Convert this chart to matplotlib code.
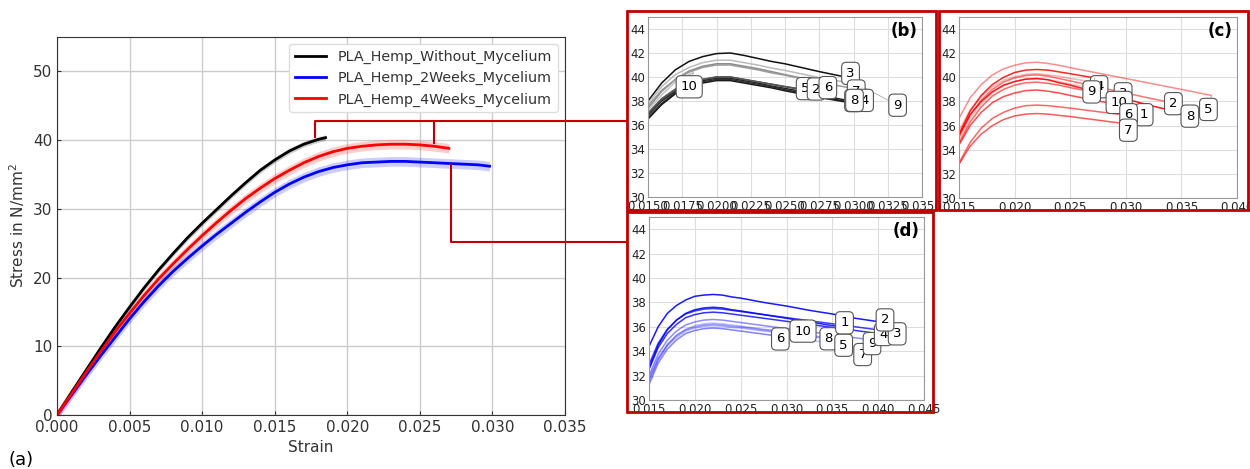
import matplotlib
matplotlib.use("Agg")
import matplotlib.pyplot as plt
from matplotlib.lines import Line2D
from matplotlib.patches import Rectangle

W, H = 1250, 469

# ---- main chart (a): mean curves ----
strain_black = [0.000, 0.001, 0.002, 0.003, 0.004, 0.005, 0.006, 0.007, 0.008, 0.009,
                0.010, 0.011, 0.012, 0.013, 0.014, 0.015, 0.016, 0.017, 0.018, 0.0185]
stress_black = [0, 3.3, 6.5, 9.7, 12.8, 15.7, 18.5, 21.1, 23.5, 25.8,
                27.9, 29.9, 31.9, 33.8, 35.6, 37.1, 38.4, 39.4, 40.1, 40.35]

strain_red = [0.000, 0.001, 0.002, 0.003, 0.004, 0.005, 0.006, 0.007, 0.008, 0.009,
              0.010, 0.011, 0.012, 0.013, 0.014, 0.015, 0.016, 0.017, 0.018, 0.019,
              0.020, 0.021, 0.022, 0.023, 0.024, 0.025, 0.026, 0.027]
stress_red = [0, 3.1, 6.2, 9.2, 12.1, 14.8, 17.4, 19.8, 22.0, 24.1,
              26.1, 28.0, 29.8, 31.5, 33.0, 34.4, 35.6, 36.7, 37.6, 38.3,
              38.8, 39.1, 39.3, 39.4, 39.4, 39.3, 39.1, 38.8]

strain_blue = [0.000, 0.001, 0.002, 0.003, 0.004, 0.005, 0.006, 0.007, 0.008, 0.009,
               0.010, 0.011, 0.012, 0.013, 0.014, 0.015, 0.016, 0.017, 0.018, 0.019,
               0.020, 0.021, 0.022, 0.023, 0.024, 0.025, 0.026, 0.027, 0.028, 0.029, 0.0298]
stress_blue = [0, 2.9, 5.8, 8.6, 11.3, 14.0, 16.5, 18.8, 20.9, 22.8,
               24.6, 26.3, 27.9, 29.5, 31.0, 32.4, 33.6, 34.6, 35.4, 36.0,
               36.4, 36.7, 36.8, 36.9, 36.9, 36.8, 36.7, 36.6, 36.5, 36.4, 36.2]

spread_black = 0.4
spread_red = 0.7
spread_blue = 0.7

legend_labels = ["PLA_Hemp_Without_Mycelium", "PLA_Hemp_2Weeks_Mycelium", "PLA_Hemp_4Weeks_Mycelium"]

# ---- single specimens, panels (b) (c) (d) ----
grid = [0.015, 0.016, 0.017, 0.018, 0.019, 0.020, 0.021, 0.022, 0.023, 0.024, 0.025,
        0.0275, 0.030, 0.0325, 0.035, 0.0375, 0.040]

# (b) without mycelium, specimens 1..10; last value sits at the end strain
b_stress = [
    [36.8, 38.0, 38.8, 39.4, 39.7, 39.9, 39.9, 39.7, 39.5, 39.25, 39.05, 38.5, 37.95],
    [36.9, 38.1, 38.9, 39.5, 39.8, 40.0, 40.0, 39.8, 39.6, 39.4, 39.2, 38.75],
    [38.0, 39.5, 40.6, 41.3, 41.7, 41.95, 42.0, 41.8, 41.55, 41.3, 41.1, 40.45, 40.05],
    [36.6, 37.8, 38.7, 39.3, 39.6, 39.8, 39.8, 39.6, 39.4, 39.2, 38.95, 38.4, 37.85, 37.8],
    [37.0, 38.2, 39.0, 39.5, 39.8, 40.0, 40.0, 39.8, 39.6, 39.4, 39.2, 38.95],
    [37.4, 38.8, 39.8, 40.5, 40.9, 41.1, 41.1, 40.9, 40.7, 40.45, 40.2, 39.6, 39.45],
    [37.6, 38.9, 39.8, 40.4, 40.8, 41.0, 41.0, 40.8, 40.6, 40.35, 40.15, 39.55, 39.05, 39.0],
    [36.5, 37.7, 38.6, 39.2, 39.5, 39.7, 39.7, 39.5, 39.3, 39.1, 38.85, 38.3, 37.8],
    [37.8, 39.2, 40.2, 40.8, 41.2, 41.4, 41.4, 41.2, 41.0, 40.75, 40.55, 39.95, 39.45, 39.4],
    [37.2, 38.5, 39.6, 40.2, 40.35],
]
b_end = [0.0300, 0.0272, 0.0292, 0.0303, 0.0264, 0.0282, 0.0302, 0.0300, 0.0303, 0.0183]

# (c) 4 weeks mycelium
c_stress = [
    [34.4, 36.0, 37.1, 37.9, 38.4, 38.7, 38.9, 38.95, 38.85, 38.7, 38.5, 38.05, 37.6, 37.4],
    [35.0, 36.9, 38.1, 39.0, 39.6, 39.95, 40.15, 40.2, 40.1, 39.9, 39.7, 39.2, 38.7, 38.2, 37.9],
    [34.7, 36.6, 37.8, 38.7, 39.3, 39.65, 39.85, 39.9, 39.8, 39.65, 39.45, 39.0, 38.8],
    [35.6, 37.3, 38.4, 39.2, 39.75, 40.05, 40.25, 40.3, 40.2, 40.1, 39.9, 39.55],
    [36.6, 38.3, 39.4, 40.2, 40.7, 41.0, 41.2, 41.25, 41.15, 41.0, 40.8, 40.35, 39.9, 39.45, 39.0, 38.5],
    [32.9, 34.6, 35.8, 36.6, 37.1, 37.45, 37.65, 37.7, 37.65, 37.55, 37.45, 37.15, 36.9],
    [32.8, 34.3, 35.3, 36.0, 36.5, 36.8, 36.95, 37.0, 36.95, 36.85, 36.75, 36.45, 36.2],
    [35.2, 36.9, 38.0, 38.8, 39.35, 39.65, 39.85, 39.9, 39.8, 39.55, 39.35, 38.75, 38.2, 37.6, 37.05, 36.95],
    [35.3, 37.2, 38.5, 39.4, 40.0, 40.4, 40.6, 40.65, 40.6, 40.45, 40.3, 39.95],
    [34.5, 36.3, 37.55, 38.45, 39.0, 39.35, 39.55, 39.6, 39.5, 39.35, 39.15, 38.7, 38.5],
]
c_end = [0.0312, 0.0341, 0.0285, 0.0276, 0.0377, 0.0298, 0.0296, 0.0354, 0.0272, 0.0285]

# (d) 2 weeks mycelium
d_stress = [
    [32.6, 34.5, 35.75, 36.55, 37.1, 37.4, 37.55, 37.6, 37.55, 37.4, 37.3, 37.0, 36.7, 36.4, 36.1, 36.0],
    [34.4, 36.0, 37.1, 37.75, 38.2, 38.5, 38.6, 38.65, 38.6, 38.45, 38.35, 38.0, 37.7, 37.35, 37.05, 36.7, 36.4],
    [32.9, 34.65, 35.8, 36.55, 37.05, 37.3, 37.45, 37.5, 37.45, 37.35, 37.25, 37.0, 36.75, 36.5, 36.25, 36.0, 35.75],
    [32.5, 34.3, 35.45, 36.2, 36.75, 37.0, 37.15, 37.2, 37.15, 37.05, 36.95, 36.7, 36.45, 36.2, 35.95, 35.7, 35.45],
    [31.6, 33.3, 34.45, 35.15, 35.65, 35.9, 36.05, 36.1, 36.05, 35.95, 35.9, 35.65, 35.45, 35.2, 35.0, 34.9],
    [31.3, 33.05, 34.2, 34.95, 35.45, 35.7, 35.85, 35.9, 35.85, 35.75, 35.65, 35.4, 35.25],
    [31.2, 33.0, 34.15, 34.9, 35.45, 35.7, 35.85, 35.9, 35.85, 35.75, 35.65, 35.4, 35.15, 34.9, 34.65, 34.4, 34.3],
    [31.8, 33.45, 34.55, 35.3, 35.75, 36.0, 36.15, 36.2, 36.15, 36.05, 36.0, 35.75, 35.55, 35.3, 35.1],
    [32.0, 33.75, 34.9, 35.65, 36.15, 36.4, 36.55, 36.6, 36.55, 36.45, 36.35, 36.1, 35.85, 35.6, 35.35, 35.1, 34.95],
    [31.5, 33.3, 34.5, 35.3, 35.8, 36.1, 36.25, 36.3, 36.25, 36.15, 36.05, 35.8, 35.55, 35.4],
]
d_end = [0.0360, 0.0402, 0.0400, 0.0400, 0.0358, 0.0290, 0.0382, 0.0345, 0.0390, 0.0318]

specimens = ["1", "2", "3", "4", "5", "6", "7", "8", "9", "10"]

# styling for the insets
b_colors = ["#222222", "#444444", "#111111", "#333333", "#555555", "#8a8a8a", "#9a9a9a", "#1a1a1a", "#bbbbbb", "#c4c4c4"]
c_alpha = [0.7, 0.55, 0.25, 0.3, 0.45, 0.6, 0.65, 0.9, 0.85, 0.6]
d_alpha = [0.85, 0.9, 0.75, 0.8, 0.3, 0.3, 0.25, 0.35, 0.45, 0.25]

# label offsets (pixels) from curve end, and drawing order
b_off = [(0, 1), (1, 3), (8, 3), (7, 3), (1, 1), (-1, -4), (0, -2), (1, 3), (40, -21), (-4, -14)]
b_order = [9, 8, 4, 1, 5, 2, 0, 6, 3, 7]
c_off = [(5, -6), (2, -1), (14, -2), (0, -4), (-3, -14), (5, 0), (7, -7), (4, -2), (-3, -14), (10, -7)]
c_order = [3, 2, 8, 9, 0, 5, 6, 1, 7, 4]
d_off = [(3, 4), (5, 2), (19, -4), (5, -1), (4, -5), (3, -3), (1, -7), (1, -1), (3, -4), (0, 3)]
d_order = [5, 9, 7, 4, 0, 6, 8, 3, 2, 1]


def px_rect(x0, y0, x1, y1):
    return [x0 / W, 1 - y1 / H, (x1 - x0) / W, (y1 - y0) / H]


def fx(x):
    return x / W


def fy(y):
    return 1 - y / H


fig = plt.figure(figsize=(W / 100, H / 100), dpi=100)

# ---------------- (a) ----------------
ax = fig.add_axes(px_rect(57, 37, 565, 415))
for s, v, sp, col, lab in [(strain_black, stress_black, spread_black, "black", legend_labels[0]),
                           (strain_blue, stress_blue, spread_blue, "blue", legend_labels[1]),
                           (strain_red, stress_red, spread_red, "red", legend_labels[2])]:
    ax.fill_between(s, [y - sp for y in v], [y + sp for y in v], color=col, alpha=0.2, lw=0)
    ax.plot(s, v, color=col, lw=2, label=lab)
ax.set_xlim(0, 0.035)
ax.set_ylim(0, 55)
ax.set_xticks([0.000, 0.005, 0.010, 0.015, 0.020, 0.025, 0.030, 0.035])
ax.set_xticklabels(["0.000", "0.005", "0.010", "0.015", "0.020", "0.025", "0.030", "0.035"])
ax.set_yticks([0, 10, 20, 30, 40, 50])
ax.grid(True, color="#cccccc", lw=1)
ax.set_axisbelow(True)
ax.tick_params(direction="in", labelsize=11, colors="#333333", length=3)
for sp in ax.spines.values():
    sp.set_color("#333333")
ax.set_xlabel("Strain", fontsize=11, color="#333333")
ax.set_ylabel("Stress in N/mm$^2$", fontsize=11, color="#333333")
leg = ax.legend(loc="upper right", fontsize=10.3, framealpha=1, edgecolor="#dddddd", fancybox=True,
                handlelength=2.2)
for t in leg.get_texts():
    t.set_color("#333333")
fig.text(fx(8), fy(460), "(a)", fontsize=13, ha="left", va="center")


# ---------------- insets ----------------
def inset(rect, curves, ends, colors, alphas, offs, order, xlim, xticks, xfmt, tag):
    a = fig.add_axes(px_rect(*rect))
    for i, vals in enumerate(curves):
        xs = grid[:len(vals) - 1] + [ends[i]]
        a.plot(xs, vals, color=colors[i], alpha=alphas[i], lw=1.1)
    for z, i in enumerate(order):
        vals = curves[i]
        a.annotate(specimens[i], xy=(ends[i], vals[-1]), xytext=offs[i], textcoords="offset pixels",
                   ha="center", va="center", fontsize=9.5, zorder=10 + z,
                   bbox=dict(boxstyle="round,pad=0.35", fc="white", ec="#555555", lw=0.8),
                   arrowprops=dict(arrowstyle="-", color="#aaaaaa", lw=0.6, shrinkA=0, shrinkB=0))
    a.set_xlim(*xlim)
    a.set_ylim(30, 45)
    a.set_yticks([30, 32, 34, 36, 38, 40, 42, 44])
    a.set_xticks(xticks)
    a.set_xticklabels([xfmt.format(t) for t in xticks])
    a.grid(True, color="#dddddd", lw=0.8)
    a.set_axisbelow(True)
    a.tick_params(length=0, labelsize=8.5, colors="#222222", pad=2)
    for sp in a.spines.values():
        sp.set_color("#999999")
        sp.set_linewidth(0.8)
    a.text(0.985, 0.975, tag, transform=a.transAxes, ha="right", va="top", fontsize=12, fontweight="bold")
    return a


inset((648, 17, 922, 197), b_stress, b_end, b_colors, [1] * 10, b_off, b_order, (0.015, 0.035),
      [0.015, 0.0175, 0.020, 0.0225, 0.025, 0.0275, 0.030, 0.0325, 0.035], "{:.4f}", "(b)")
inset((959, 17, 1237, 198), c_stress, c_end, ["red"] * 10, c_alpha, c_off, c_order, (0.015, 0.040),
      [0.015, 0.020, 0.025, 0.030, 0.035, 0.040], "{:.3f}", "(c)")
inset((649, 217, 924, 400), d_stress, d_end, ["blue"] * 10, d_alpha, d_off, d_order, (0.015, 0.045),
      [0.015, 0.020, 0.025, 0.030, 0.035, 0.040, 0.045], "{:.3f}", "(d)")

# ---------------- frames and connectors ----------------
red = "#c00000"
for x0, y0, x1, y1 in [(627, 11, 936, 210), (939, 11, 1248, 210), (627, 212, 933, 412)]:
    fig.add_artist(Rectangle((fx(x0), fy(y1)), fx(x1 - x0), (y1 - y0) / H, transform=fig.transFigure,
                             fill=False, ec=red, lw=2))
for xs, ys in [([315, 315, 627], [137, 121, 121]), ([434, 434], [121, 143]), ([451, 451, 627], [165, 242, 242])]:
    fig.add_artist(Line2D([fx(x) for x in xs], [fy(y) for y in ys], transform=fig.transFigure, color=red, lw=1.5))

fig.savefig("out.png", dpi=100)
